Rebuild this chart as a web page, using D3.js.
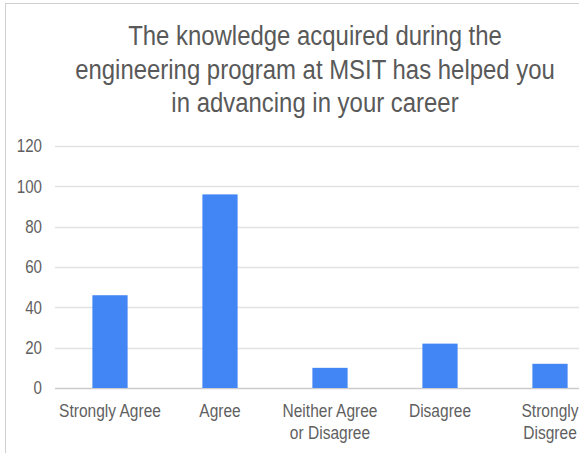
<!DOCTYPE html>
<html>
<head>
<meta charset="utf-8">
<script src="https://cdn.jsdelivr.net/npm/d3@7"></script>
<style>
  html, body { margin: 0; padding: 0; background: #fff; }
  svg { display: block; font-family: "Liberation Sans", Arial, sans-serif; }
</style>
</head>
<body>
<div id="chart"></div>
<script>
const titleLines = [
    "The knowledge acquired during the",
    "engineering program at MSIT has helped you",
    "in advancing in your career"
];
const categories = ["Strongly Agree", "Agree", "Neither Agree or Disagree", "Disagree", "Strongly Disgree"];
const categoryLines = [
    ["Strongly Agree"],
    ["Agree"],
    ["Neither Agree", "or Disagree"],
    ["Disagree"],
    ["Strongly", "Disgree"]
];
const counts = [46, 96, 10, 22, 12];
const yTicks = [0, 20, 40, 60, 80, 100, 120];

const width = 579;
const height = 453;
const squeeze = 0.84;   // text in the source looks horizontally compressed
const textColor = "#5f5f5f";

const svg = d3.select("#chart")
    .append("svg")
    .attr("width", width)
    .attr("height", height);

// outer frame
svg.append("rect")
    .attr("x", 5.5).attr("y", 3.5)
    .attr("width", width + 20).attr("height", height + 20)
    .attr("fill", "#fff")
    .attr("stroke", "#d0d0d0");

const x = d3.scaleBand()
    .domain(categories)
    .range([55, 605])
    .paddingInner(0.68)
    .paddingOuter(0.34);

const y = d3.scaleLinear()
    .domain([0, 120])
    .range([388, 146]);

// title
const title = svg.append("g");
title.selectAll("g")
    .data(titleLines)
    .enter()
    .append("g")
    .attr("transform", (d, i) => `translate(315,${45 + i * 33.5}) scale(0.855,1)`)
    .append("text")
    .attr("text-anchor", "middle")
    .attr("font-size", 28)
    .attr("fill", "#595959")
    .text(d => d);

// grid
svg.append("g")
    .selectAll("line")
    .data(yTicks)
    .enter()
    .append("line")
    .attr("x1", 55).attr("x2", width)
    .attr("y1", d => Math.round(y(d)) + 0.5)
    .attr("y2", d => Math.round(y(d)) + 0.5)
    .attr("stroke", d => d === 0 ? "#cccccc" : "#e2e2e2")
    .attr("stroke-width", 1.5);

// y labels
svg.append("g")
    .selectAll("g")
    .data(yTicks)
    .enter()
    .append("g")
    .attr("transform", d => `translate(42,${y(d)}) scale(${squeeze},1)`)
    .append("text")
    .attr("text-anchor", "end")
    .attr("dy", "0.36em")
    .attr("font-size", 18)
    .attr("fill", textColor)
    .text(d => d);

// bars
svg.append("g")
    .selectAll("rect")
    .data(counts)
    .enter()
    .append("rect")
    .attr("x", (d, i) => x(categories[i]))
    .attr("width", x.bandwidth())
    .attr("y", d => y(d))
    .attr("height", d => y(0) - y(d))
    .attr("fill", "#4285f4");

// x labels
const xl = svg.append("g")
    .selectAll("g")
    .data(categoryLines)
    .enter()
    .append("g")
    .attr("transform", (d, i) => `translate(${x(categories[i]) + x.bandwidth() / 2},417) scale(${squeeze},1)`);

xl.selectAll("text")
    .data(d => d)
    .enter()
    .append("text")
    .attr("text-anchor", "middle")
    .attr("y", (d, i) => i * 22)
    .attr("font-size", 18.5)
    .attr("fill", textColor)
    .text(d => d);
</script>
</body>
</html>
